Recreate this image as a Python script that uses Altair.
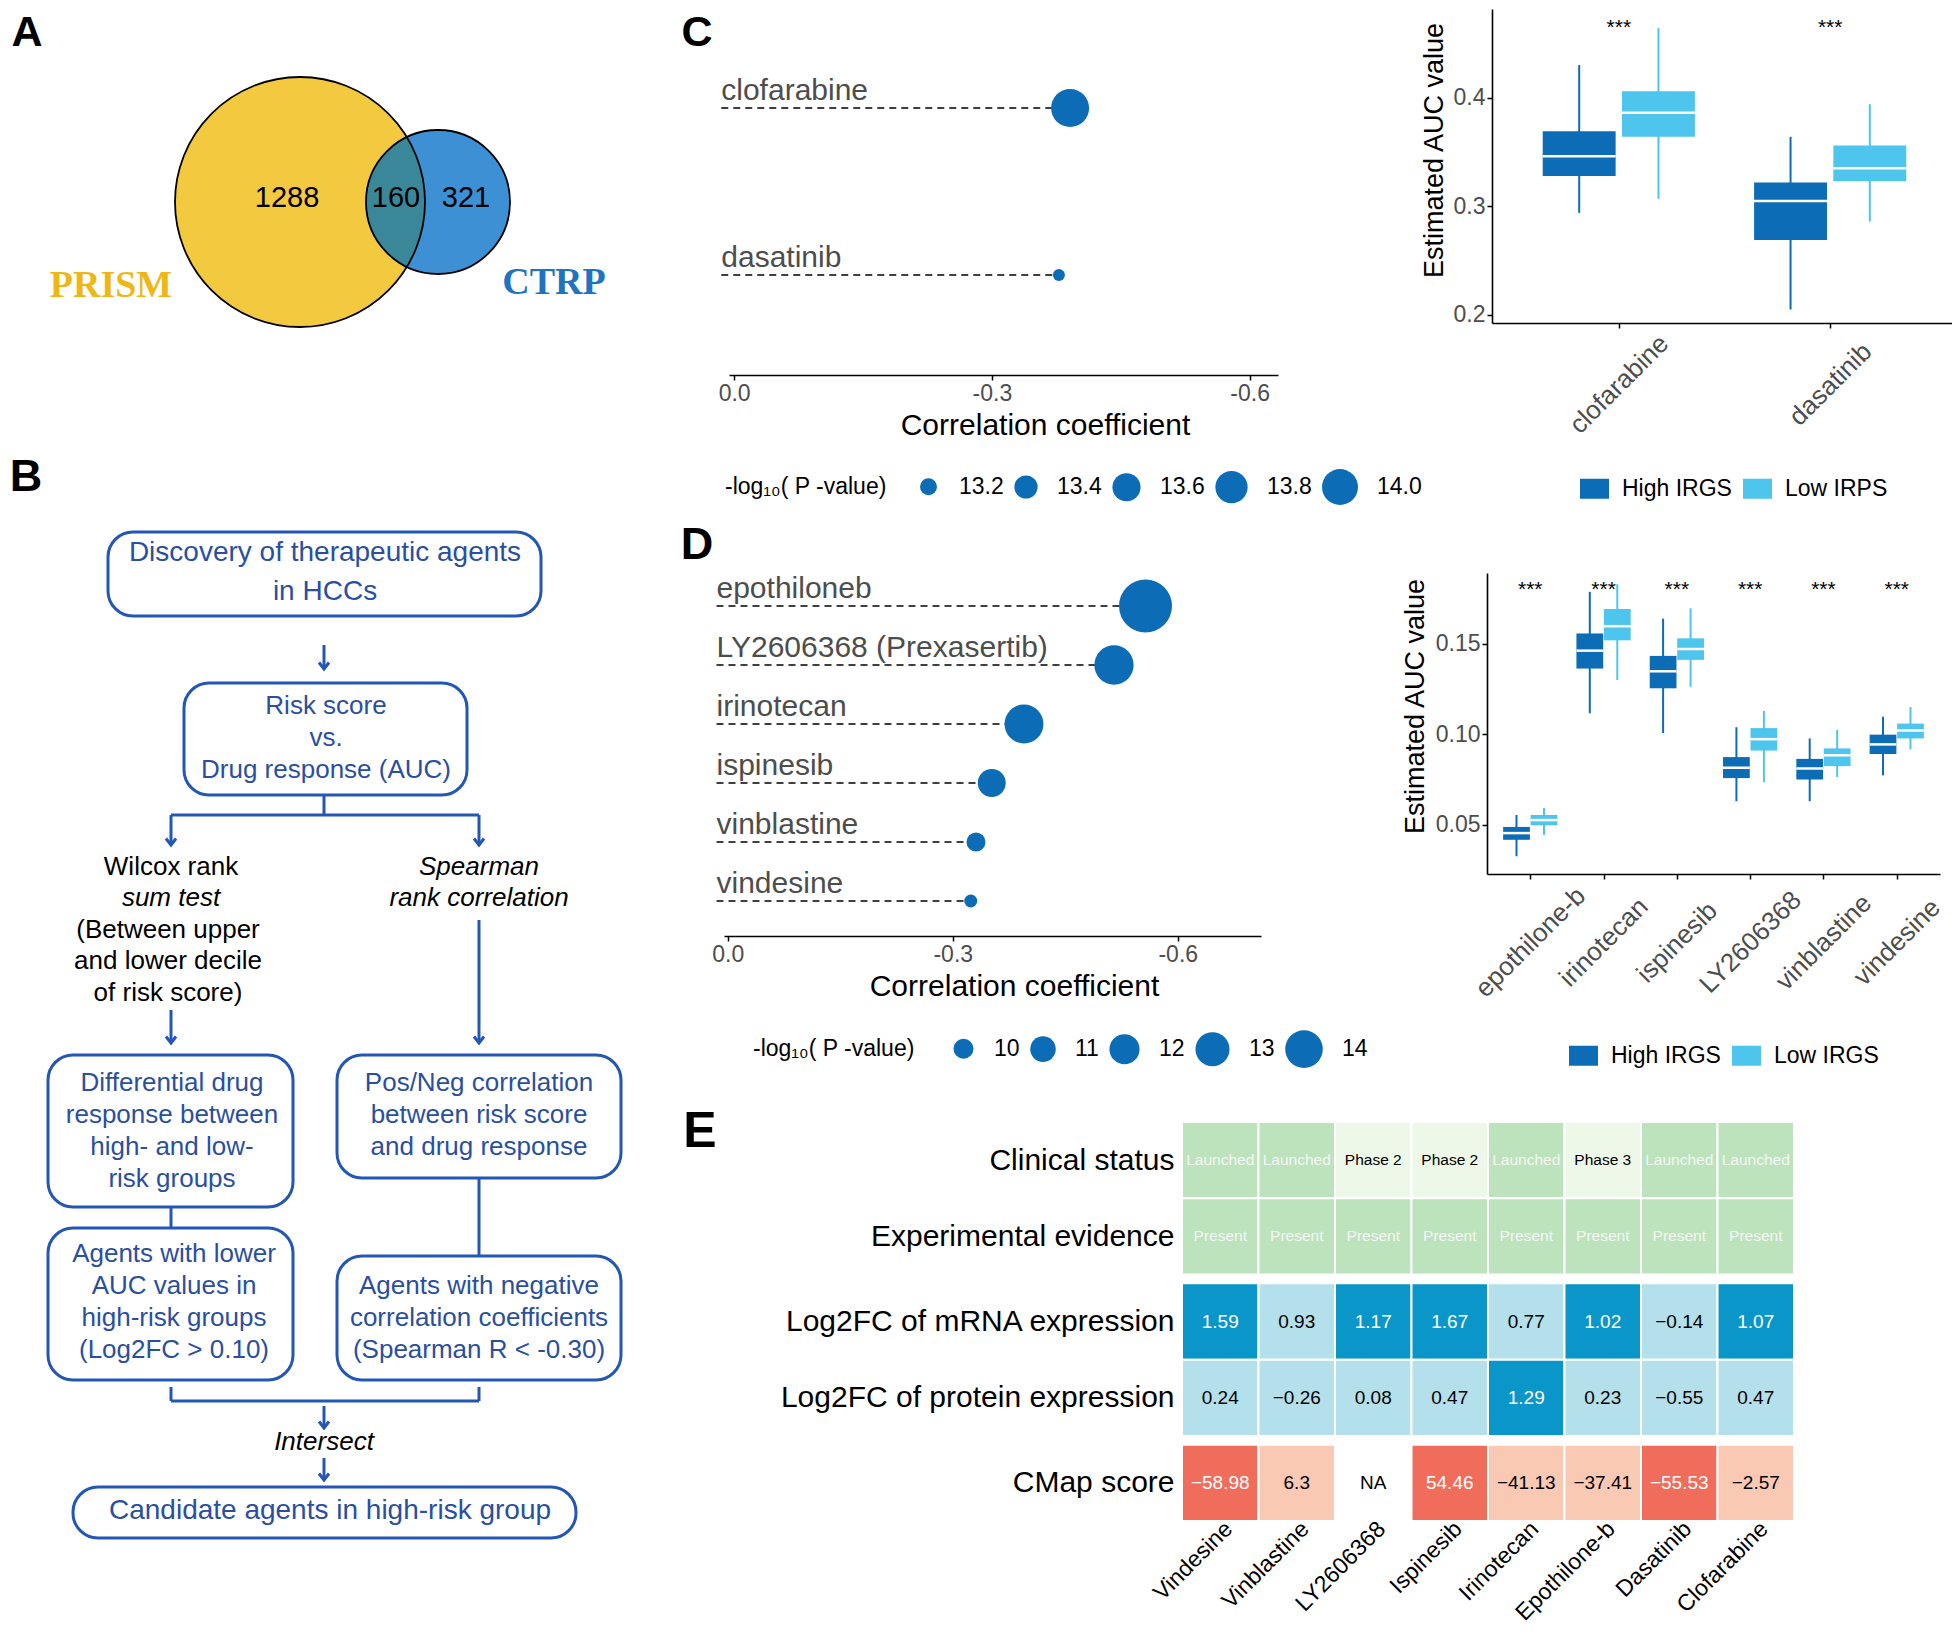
import math
import numpy as np
import pandas as pd
import altair as alt

W, H, M = 1944, 1616, 8
FONT = "Liberation Sans, Arial, Helvetica, DejaVu Sans, sans-serif"
SERIF = "Liberation Serif, Times New Roman, DejaVu Serif, serif"
GREY = "#4D4D4D"
DARK = "#0C6DB6"
LIGHT = "#4DC5EC"
FLOW_LINE = "#2356B5"
FLOW_TEXT = "#2A4FA0"

# ======================= DATA =======================
# ---- Panel A (Venn) ----
venn_names = ["PRISM", "CTRP"]
venn_only = [1288, 321]
venn_shared = 160
venn_fill = ["#F2C93F", "#3C90D3"]
venn_name_color = ["#EDB817", "#1F74C1"]
venn_overlap_fill = "#3B879A"
# diagram layout (reference pixels)
venn_cx = [300, 438]
venn_cy = [202, 202]
venn_diam = [250, 144]
venn_count_x = [287, 466]
venn_shared_x = 396
venn_count_y = 198
venn_name_x = [111, 554]
venn_name_y = [286, 283]

# ---- Panel B (flow chart) ----
box_x1 = [108, 184, 48, 337, 48, 337, 73]
box_x2 = [541, 467, 293, 621, 293, 621, 576]
box_y1 = [532, 683, 1055, 1055, 1228, 1256, 1487]
box_y2 = [616, 795, 1207, 1178, 1380, 1380, 1538]

flow_text = [
    "Discovery of therapeutic agents\nin  HCCs",
    "Risk score\nvs.\nDrug response (AUC)",
    "Differential drug\nresponse between\nhigh- and low-\nrisk groups",
    "Pos/Neg correlation\nbetween risk score\nand drug response",
    "Agents with lower\nAUC values in\nhigh-risk groups\n(Log2FC > 0.10)",
    "Agents with negative\ncorrelation coefficients\n(Spearman R < -0.30)",
    "Candidate agents in high-risk group",
    "Wilcox rank",
    "sum test",
    "(Between upper\nand lower decile\nof risk score)",
    "Spearman\nrank correlation",
    "Intersect",
]
flow_text_x = [325, 326, 172, 479, 174, 479, 330, 171, 171, 168, 479, 324]
flow_text_y = [572, 738, 1131, 1115, 1302, 1318, 1511, 867, 898, 961, 882, 1442]
flow_text_style = ["big", "box", "box", "box", "box", "box", "big",
                   "plain", "italic", "plain", "italic", "italic"]

seg_x1 = [324, 324, 171, 171, 479, 171, 479, 171, 479, 171, 171, 479, 324, 324]
seg_y1 = [645, 795, 815, 815, 815, 1010, 920, 1207, 1178, 1387, 1401, 1387, 1406, 1458]
seg_x2 = [324, 324, 479, 171, 479, 171, 479, 171, 479, 171, 479, 479, 324, 324]
seg_y2 = [669, 815, 815, 845, 845, 1043, 1043, 1228, 1256, 1401, 1401, 1401, 1428, 1480]
head_x = [324, 171, 479, 171, 479, 324, 324]
head_y = [669, 845, 845, 1043, 1043, 1428, 1480]

# ---- panel letters (baseline positions) ----
letters = ["A", "B", "C", "D", "E"]
letter_x = [27, 26, 697, 697, 700]
letter_y = [46, 491, 46, 559, 1147]
letter_size = [43, 45, 43, 45, 50]

# ---- Panel C lollipop ----
c_drugs = ["clofarabine", "dasatinib"]
c_r = [-0.391, -0.378]
c_logp = [14.12, 13.085]
c_breaks = [13.2, 13.4, 13.6, 13.8, 14.0]

# ---- Panel C boxplot ----
cb_drugs = ["clofarabine", "dasatinib"]
cb_groups = ["High IRGS", "Low IRPS"]
cb_hi_min = [0.294, 0.205]
cb_hi_q1 = [0.328, 0.269]
cb_hi_med = [0.346, 0.305]
cb_hi_q3 = [0.369, 0.322]
cb_hi_max = [0.430, 0.364]
cb_lo_min = [0.307, 0.286]
cb_lo_q1 = [0.364, 0.323]
cb_lo_med = [0.386, 0.335]
cb_lo_q3 = [0.406, 0.356]
cb_lo_max = [0.464, 0.394]
cb_sig = ["***", "***"]
cb_sig_y = [0.470, 0.470]

# ---- Panel D lollipop ----
d_drugs = ["epothiloneb", "LY2606368 (Prexasertib)", "irinotecan", "ispinesib",
           "vinblastine", "vindesine"]
d_r = [-0.557, -0.515, -0.395, -0.352, -0.331, -0.324]
d_logp = [19.5, 14.5, 14.4, 11.5, 9.85, 9.09]
d_breaks = [10, 11, 12, 13, 14]

# ---- Panel D boxplot ----
db_drugs = ["epothilone-b", "irinotecan", "ispinesib", "LY2606368", "vinblastine", "vindesine"]
db_groups = ["High IRGS", "Low IRGS"]
db_hi_min = [0.0327, 0.1117, 0.1008, 0.0631, 0.0631, 0.0774]
db_hi_q1 = [0.0418, 0.1364, 0.1255, 0.0759, 0.0751, 0.0892]
db_hi_med = [0.0455, 0.1463, 0.1349, 0.0816, 0.0812, 0.0945]
db_hi_q3 = [0.0489, 0.1558, 0.1434, 0.0875, 0.0865, 0.0999]
db_hi_max = [0.0555, 0.1788, 0.1640, 0.1040, 0.0978, 0.1098]
db_lo_min = [0.0445, 0.1301, 0.1263, 0.0736, 0.0765, 0.0917]
db_lo_q1 = [0.0498, 0.1520, 0.1412, 0.0911, 0.0825, 0.0978]
db_lo_med = [0.0527, 0.1598, 0.1472, 0.0974, 0.0885, 0.1022]
db_lo_q3 = [0.0555, 0.1693, 0.1531, 0.1035, 0.0923, 0.1060]
db_lo_max = [0.0593, 0.1830, 0.1697, 0.1130, 0.1025, 0.1151]
db_sig = ["***"] * 6
db_sig_y = [0.1831] * 6

# ---- Panel E heatmap ----
hm_drugs = ["Vindesine", "Vinblastine", "LY2606368", "Ispinesib", "Irinotecan",
            "Epothilone-b", "Dasatinib", "Clofarabine"]
hm_rows = ["Clinical status", "Experimental evidence", "Log2FC of mRNA expression",
           "Log2FC of protein expression", "CMap score"]
hm_row_group = [0, 0, 1, 1, 2]
hm_clinical = ["Launched", "Launched", "Phase 2", "Phase 2", "Launched", "Phase 3",
               "Launched", "Launched"]
hm_evidence = ["Present"] * 8
hm_mrna = [1.59, 0.93, 1.17, 1.67, 0.77, 1.02, -0.14, 1.07]
hm_protein = [0.24, -0.26, 0.08, 0.47, 1.29, 0.23, -0.55, 0.47]
hm_cmap = [-58.98, 6.3, None, 54.46, -41.13, -37.41, -55.53, -2.57]

# ======================= HELPERS =======================
CX = alt.Scale(domain=[0, 1960], range=[-M, 1960 - M], nice=False, zero=False)
CY = alt.Scale(domain=[0, 1632], range=[-M, 1632 - M], nice=False, zero=False)


def cx(f):
    return alt.X(f, type="quantitative", scale=CX, axis=None)


def cy(f):
    return alt.Y(f, type="quantitative", scale=CY, axis=None)


def arr_expr(names):
    return "[" + ",".join("'" + n.replace("'", "\\'") + "'" for n in names) + "][datum.value]"


# ======================= PANEL A =======================
R0, R1 = venn_diam[0] / 2, venn_diam[1] / 2
dist = venn_cx[1] - venn_cx[0]
a_ = (dist ** 2 + R0 ** 2 - R1 ** 2) / (2 * dist)
h_ = math.sqrt(R0 ** 2 - a_ ** 2)
lens_x = venn_cx[0] + a_
tb_s = math.atan2(h_, lens_x - venn_cx[1])
tb_b = math.atan2(h_, lens_x - venn_cx[0])
pts = []
for t in np.linspace(2 * math.pi - tb_s, tb_s, 60):
    pts.append((venn_cx[1] + R1 * math.cos(t) - lens_x, R1 * math.sin(t)))
for t in np.linspace(tb_b, -tb_b, 60):
    pts.append((venn_cx[0] + R0 * math.cos(t) - lens_x, R0 * math.sin(t)))
lens_path = "M " + " L ".join(f"{x:.2f} {y:.2f}" for x, y in pts) + " Z"

venn_df = pd.DataFrame({"x": venn_cx, "y": venn_cy, "size": [d * d for d in venn_diam],
                        "fill": venn_fill, "name": venn_names, "nx": venn_name_x,
                        "ny": venn_name_y, "ncol": venn_name_color})
lens_df = pd.DataFrame({"x": [lens_x], "y": [venn_cy[0]]})
count_df = pd.DataFrame({"t": [str(venn_only[0]), str(venn_shared), str(venn_only[1])],
                         "x": [venn_count_x[0], venn_shared_x, venn_count_x[1]],
                         "y": [venn_count_y] * 3})

venn_circ = alt.Chart(venn_df).mark_point(filled=True, opacity=1, strokeWidth=0, shape="circle").encode(
    x=cx("x"), y=cy("y"), size=alt.Size("size:Q", scale=None), color=alt.Color("fill:N", scale=None))
venn_lens = alt.Chart(lens_df).mark_point(filled=True, opacity=1, strokeWidth=0, shape=lens_path,
                                          size=4, color=venn_overlap_fill).encode(x=cx("x"), y=cy("y"))
venn_line = alt.Chart(venn_df).mark_point(filled=False, opacity=1, strokeWidth=1.8, color="black",
                                          shape="circle").encode(
    x=cx("x"), y=cy("y"), size=alt.Size("size:Q", scale=None))
venn_cnt = alt.Chart(count_df).mark_text(fontSize=29, color="black", font=FONT).encode(
    x=cx("x"), y=cy("y"), text="t:N")
venn_nm = alt.Chart(venn_df).mark_text(fontSize=38, fontWeight="bold", font=SERIF).encode(
    x=cx("nx"), y=cy("ny"), text="name:N", color=alt.Color("ncol:N", scale=None))

# ======================= PANEL B =======================
box_df = pd.DataFrame({"x1": box_x1, "x2": box_x2, "y1": box_y1, "y2": box_y2})
seg_df = pd.DataFrame({"x1": seg_x1, "y1": seg_y1, "x2": seg_x2, "y2": seg_y2})
head_df = pd.DataFrame({"x": head_x, "y": head_y})
STYLE_LH = {"big": 39, "box": 31.7, "plain": 31.5, "italic": 31}
ft_df = pd.DataFrame({"t": flow_text, "x": flow_text_x, "y": flow_text_y, "s": flow_text_style})
ft_df["n"] = ft_df["t"].str.count("\n") + 1
ft_df["y0"] = ft_df["y"] - (ft_df["n"] - 1) * ft_df["s"].map(STYLE_LH) / 2

flow_boxes = alt.Chart(box_df).mark_rect(fill="white", stroke=FLOW_LINE, strokeWidth=3,
                                         cornerRadius=25).encode(
    x=cx("x1"), x2="x2:Q", y=cy("y1"), y2="y2:Q")
flow_segs = alt.Chart(seg_df).mark_rule(color=FLOW_LINE, strokeWidth=3).encode(
    x=cx("x1"), y=cy("y1"), x2="x2:Q", y2="y2:Q")
flow_heads = alt.Chart(head_df).mark_point(shape="M -1 -1.3 L 0 0 L 1 -1.3", filled=False, size=100,
                                           color=FLOW_LINE, strokeWidth=3, opacity=1,
                                           strokeJoin="miter").encode(x=cx("x"), y=cy("y"))


def flow_txt(style, size, color, italic=False):
    kw = dict(fontSize=size, lineHeight=STYLE_LH[style], lineBreak="\n", color=color, font=FONT,
              align="center", baseline="middle")
    if italic:
        kw["fontStyle"] = "italic"
    return alt.Chart(ft_df).transform_filter(alt.datum.s == style).mark_text(**kw).encode(
        x=cx("x"), y=cy("y0"), text="t:N")


flow_t1 = flow_txt("big", 28, FLOW_TEXT)
flow_t2 = flow_txt("box", 26, FLOW_TEXT)
flow_t3 = flow_txt("plain", 26, "black")
flow_t4 = flow_txt("italic", 26, "black", italic=True)

letter_df = pd.DataFrame({"t": letters, "x": letter_x, "y": letter_y, "s": letter_size})
letter_layer = alt.Chart(letter_df).mark_text(fontWeight="bold", color="black", font=FONT,
                                              baseline="alphabetic").encode(
    x=cx("x"), y=cy("y"), text="t:N", size=alt.Size("s:Q", scale=None))

canvas = alt.layer(venn_circ, venn_lens, venn_line, venn_cnt, venn_nm,
                   flow_segs, flow_heads, flow_boxes, flow_t1, flow_t2, flow_t3, flow_t4,
                   letter_layer)


# ======================= LOLLIPOPS =======================
def lollipop(drugs, rvals, logp, breaks, fmt, xdom, xr, yr, axis_y, title_xy, dmin, dmax, leg_xy,
             leg_tpad):
    df = pd.DataFrame({"drug": drugs, "r": rvals, "logp": logp})
    df["start"] = 0.015
    xs = alt.Scale(domain=xdom, range=[xr[0] - M, xr[1] - M], nice=False, zero=False)
    ys = alt.Scale(type="point", domain=drugs, range=[yr[0] - M, yr[1] - M], padding=0)
    ax = alt.Axis(orient="bottom", offset=(axis_y - M) - H, values=[0, -0.3, -0.6],
                  labelExpr="datum.value == 0 ? '0.0' : '-' + format(-datum.value, '.1f')",
                  labelFontSize=23, labelColor=GREY, labelPadding=2, tickSize=5,
                  tickColor="black", tickWidth=1.5, domainColor="black", domainWidth=1.6,
                  labelFlush=False, labelOverlap=False,
                  title="Correlation coefficient", titleFontSize=30, titleFontWeight="normal",
                  titleColor="black", titleX=title_xy[0] - M, titleY=title_xy[1] - axis_y,
                  titleAlign="center", titleBaseline="middle")
    base = alt.Chart(df)
    seg = base.mark_rule(strokeDash=[7, 5], strokeWidth=1.6, color="black").encode(
        x=alt.X("start:Q", scale=xs, axis=ax), x2="r:Q", y=alt.Y("drug:N", scale=ys, axis=None))
    lab = base.mark_text(align="left", baseline="alphabetic", dy=-8, fontSize=30, color=GREY,
                         font=FONT).encode(
        x=alt.X("start:Q", scale=xs, axis=ax), y=alt.Y("drug:N", scale=ys, axis=None), text="drug:N")
    pt = base.mark_circle(color=DARK, opacity=1).encode(
        x=alt.X("r:Q", scale=xs, axis=ax), y=alt.Y("drug:N", scale=ys, axis=None),
        size=alt.Size("logp:Q",
                      scale=alt.Scale(domain=[min(logp), max(logp)], range=[dmin ** 2, dmax ** 2],
                                      zero=False, nice=False),
                      legend=alt.Legend(orient="none", legendX=leg_xy[0] - M, legendY=leg_xy[1] - M,
                                        direction="horizontal", title="-log\u2081\u2080( P -value)",
                                        titleOrient="left", titleFontSize=23, titleFontWeight="normal",
                                        titleColor="black", titlePadding=leg_tpad,
                                        titleBaseline="middle",
                                        labelFontSize=23, labelColor="black", values=breaks,
                                        format=fmt, symbolFillColor=DARK, symbolStrokeWidth=0,
                                        symbolOpacity=1, labelOffset=19, columnPadding=10)))
    return alt.layer(seg, lab, pt)


lolC = lollipop(c_drugs, c_r, c_logp, c_breaks, ".1f", [0.006, -0.633], (729, 1278), (108, 275),
                375, (1045, 425), 12, 38, (725, 469), 30)
lolD = lollipop(d_drugs, d_r, d_logp, d_breaks, "d", [0.005, -0.711], (724, 1261), (606, 901),
                936, (1014, 986), 13, 53, (753, 1030), 37)


# ======================= BOXPLOTS =======================
def boxplot(drugs, groups, hi, lo, sig, sig_y, xdom, xr, ydom, yr, yvals, yfmt, axis_x, axis_y,
            ytitle_xy, lab_pad, bw, leg_xy):
    rows = []
    for gi, (g, st, col) in enumerate(zip(groups, [hi, lo], [DARK, LIGHT])):
        off = -0.1875 if gi == 0 else 0.1875
        for i, d in enumerate(drugs):
            rows.append(dict(drug=d, group=g, xc=i + off, xl=i + off - bw / 2, xr=i + off + bw / 2,
                             lo=st[0][i], q1=st[1][i], med=st[2][i], q3=st[3][i], hi=st[4][i],
                             col=col))
    df = pd.DataFrame(rows)
    sdf = pd.DataFrame({"x": list(range(len(drugs))), "y": sig_y, "t": sig})
    xs = alt.Scale(domain=xdom, range=[xr[0] - M, xr[1] - M], nice=False, zero=False)
    ys = alt.Scale(domain=ydom, range=[yr[0] - M, yr[1] - M], nice=False, zero=False)
    axx = alt.Axis(orient="bottom", offset=(axis_y - M) - H, values=list(range(len(drugs))),
                   labelExpr=arr_expr(drugs), labelAngle=-45, labelAlign="center",
                   labelBaseline="middle", labelPadding=lab_pad, labelFontSize=26,
                   labelColor=GREY, tickSize=5, tickColor="black", tickWidth=1.5,
                   domainColor="black", domainWidth=1.6, title=None, labelOverlap=False,
                   labelFlush=False)
    axy = alt.Axis(orient="left", offset=-(axis_x - M), values=yvals, format=yfmt,
                   labelFontSize=23, labelColor=GREY, labelPadding=2, tickSize=5,
                   tickColor="black", tickWidth=1.5, domainColor="black", domainWidth=1.6,
                   labelOverlap=False, labelFlush=False,
                   title="Estimated AUC value", titleFontSize=27, titleFontWeight="normal",
                   titleColor="black", titleX=ytitle_xy[0] - axis_x, titleY=ytitle_xy[1] - M,
                   titleAlign="center", titleBaseline="middle")
    base = alt.Chart(df)
    wh = base.mark_rule(strokeWidth=2).encode(
        x=alt.X("xc:Q", scale=xs, axis=axx), y=alt.Y("lo:Q", scale=ys, axis=axy), y2="hi:Q",
        color=alt.Color("col:N", scale=None))
    bx = base.mark_rect().encode(
        x=alt.X("xl:Q", scale=xs, axis=axx), x2="xr:Q", y=alt.Y("q1:Q", scale=ys, axis=axy),
        y2="q3:Q",
        color=alt.Color("group:N", scale=alt.Scale(domain=groups, range=[DARK, LIGHT]),
                        legend=alt.Legend(orient="none", legendX=leg_xy[0] - M,
                                          legendY=leg_xy[1] - M, direction="horizontal",
                                          title=None, symbolType="M -1 -0.69 L 1 -0.69 L 1 0.69 L -1 0.69 Z",
                                          symbolSize=841, symbolStrokeWidth=0, symbolOpacity=1,
                                          labelFontSize=23, labelColor="black", labelOffset=13,
                                          columnPadding=11)))
    md = base.mark_rule(color="white", strokeWidth=2.5).encode(
        x=alt.X("xl:Q", scale=xs, axis=axx), x2="xr:Q", y=alt.Y("med:Q", scale=ys, axis=axy))
    st = alt.Chart(sdf).mark_text(fontSize=21, color="black", baseline="alphabetic", dy=12,
                                  font=FONT).encode(
        x=alt.X("x:Q", scale=xs, axis=axx), y=alt.Y("y:Q", scale=ys, axis=axy), text="t:N")
    return alt.layer(wh, bx, md, st)


boxC = boxplot(cb_drugs, cb_groups,
               [cb_hi_min, cb_hi_q1, cb_hi_med, cb_hi_q3, cb_hi_max],
               [cb_lo_min, cb_lo_q1, cb_lo_med, cb_lo_q3, cb_lo_max],
               cb_sig, cb_sig_y, [-0.6, 1.6], (1492, 1957), [0.1926, 0.4816], (323, 9),
               [0.2, 0.3, 0.4], ".1f", 1492, 323, (1434, 150), 56, 0.345, (1580, 474))
boxD = boxplot(db_drugs, db_groups,
               [db_hi_min, db_hi_q1, db_hi_med, db_hi_q3, db_hi_max],
               [db_lo_min, db_lo_q1, db_lo_med, db_lo_q3, db_lo_max],
               db_sig, db_sig_y, [-0.59, 5.59], (1487, 1940), [0.0229, 0.1892], (874, 573),
               [0.05, 0.10, 0.15], ".2f", 1487, 874, (1415, 706), 63, 0.365, (1569, 1041))

# ======================= HEATMAP =======================
GAP = 0.115
row_pos = [i + g * GAP for i, g in enumerate(hm_row_group)]
cells = []
for j, d in enumerate(hm_drugs):
    v = hm_clinical[j]
    cells.append(dict(col=j, row=0, t=v, fill="#BCE3BC" if v == "Launched" else "#EEF8E9",
                      tc="#F6F6F6" if v == "Launched" else "black", fs=15.5))
    cells.append(dict(col=j, row=1, t=hm_evidence[j], fill="#BCE3BC", tc="#F6F6F6", fs=15.5))
    for ri, arr in [(2, hm_mrna), (3, hm_protein)]:
        v = arr[j]
        hi = v >= 1
        cells.append(dict(col=j, row=ri, t=f"{v:.2f}".replace("-", "\u2212"),
                          fill="#0A96C8" if hi else "#B4E0EB", tc="white" if hi else "black", fs=19))
    v = hm_cmap[j]
    if v is None:
        cells.append(dict(col=j, row=4, t="NA", fill="white", tc="black", fs=19))
    else:
        strong = abs(v) > 50
        txt = (f"{v:.2f}" if abs(v * 10 - round(v * 10)) > 1e-9 else f"{v:.1f}").replace("-", "\u2212")
        cells.append(dict(col=j, row=4, t=txt, fill="#F06D5C" if strong else "#F9C9B4",
                          tc="white" if strong else "black", fs=19))
hdf = pd.DataFrame(cells)
hdf["y"] = [row_pos[r] for r in hdf["row"]]
hdf["x0"] = hdf["col"] - 0.5
hdf["x1"] = hdf["col"] + 0.5
hdf["y0"] = hdf["y"] - 0.5
hdf["y1"] = hdf["y"] + 0.5

hxs = alt.Scale(domain=[-0.5, len(hm_drugs) - 0.5], range=[1182 - M, 1794 - M], nice=False, zero=False)
hys = alt.Scale(domain=[-0.5, row_pos[-1] + 0.5], range=[1122 - M, 1521 - M], nice=False, zero=False)
mids = [(row_pos[i] + row_pos[i + 1]) / 2 for i in range(len(row_pos) - 1)]
row_expr = ""
for i, mid in enumerate(mids):
    row_expr += f"datum.value < {mid:.4f} ? '{hm_rows[i]}' : "
row_expr += f"'{hm_rows[-1]}'"
hax = alt.Axis(orient="bottom", offset=(1521 - M) - H, values=list(range(len(hm_drugs))),
               labelExpr=arr_expr(hm_drugs), labelAngle=-45, labelAlign="right",
               labelBaseline="middle", labelPadding=4, labelOffset=8, labelFontSize=23,
               labelColor="black", ticks=False, domain=False, title=None, labelOverlap=False,
               labelFlush=False)
hay = alt.Axis(orient="left", offset=-(1182 - M), values=row_pos, labelExpr=row_expr,
               labelFontSize=30, labelColor="black", labelPadding=8, ticks=False, domain=False,
               title=None, labelOverlap=False, labelFlush=False)
hrect = alt.Chart(hdf).mark_rect(stroke="white", strokeWidth=2).encode(
    x=alt.X("x0:Q", scale=hxs, axis=hax), x2="x1:Q",
    y=alt.Y("y0:Q", scale=hys, axis=hay), y2="y1:Q",
    color=alt.Color("fill:N", scale=None))
htext = alt.Chart(hdf).mark_text(font=FONT).encode(
    x=alt.X("col:Q", scale=hxs, axis=hax), y=alt.Y("y:Q", scale=hys, axis=hay), text="t:N",
    color=alt.Color("tc:N", scale=None), size=alt.Size("fs:Q", scale=None))
heat = alt.layer(hrect, htext)

# ======================= ASSEMBLY =======================
chart = alt.layer(canvas, lolC, lolD, boxC, boxD, heat).resolve_scale(
    x="independent", y="independent", color="independent", size="independent"
).properties(width=W, height=H, padding=0, autosize=alt.AutoSizeParams(type="none")
).configure(font=FONT).configure_view(stroke=None).configure_axis(
    grid=False, labelFont=FONT, titleFont=FONT, labelLimit=0
).configure_legend(labelFont=FONT, titleFont=FONT, labelLimit=0)

chart.save("out.html", embed_options={"renderer": "svg", "actions": False})
